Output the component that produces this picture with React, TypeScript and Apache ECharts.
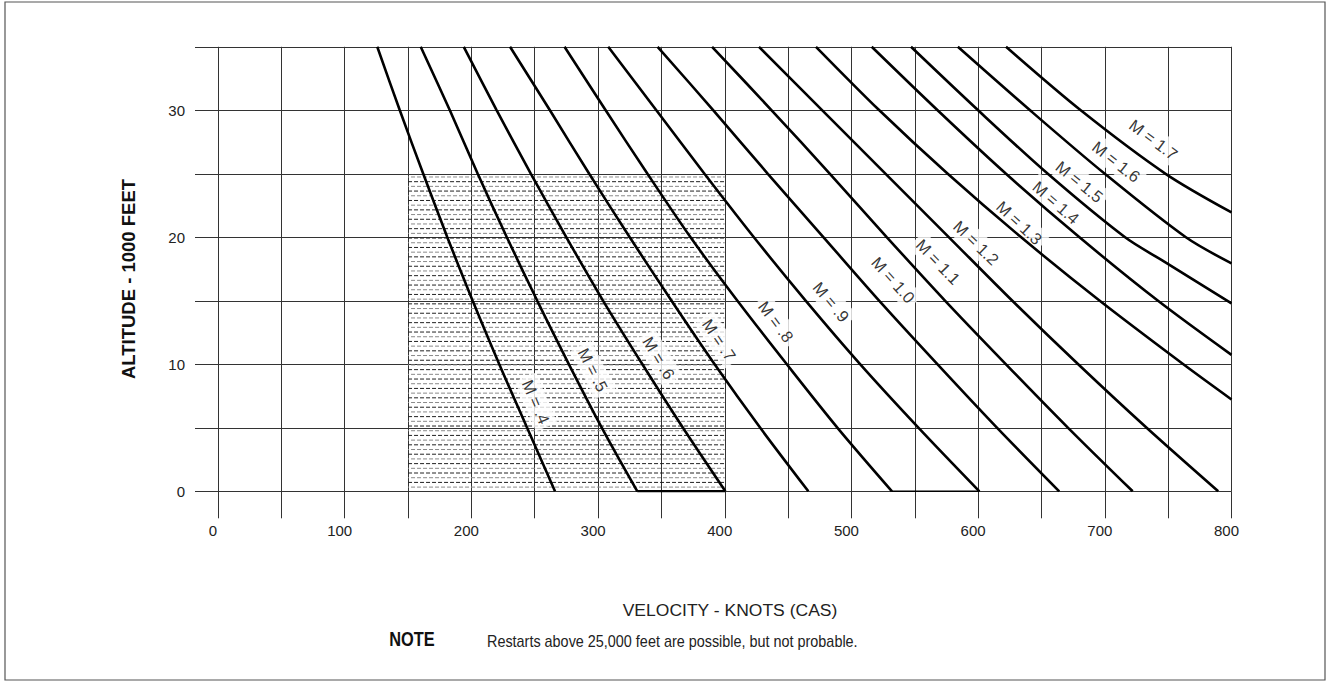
import React, { useEffect, useRef } from "react";
import * as echarts from "echarts";

const FONT = "'Liberation Sans', Arial, Helvetica, sans-serif";

// Altitude (1000 ft) for the low-Mach curves
const altitudes = [0, 5, 10, 15, 20, 25, 30, 35];
// CAS velocity (knots) at each altitude
const mach04 = [266, 244, 222, 201, 181, 162, 143.5, 125.7];
const mach05 = [331, 303, 277, 252, 228, 205, 183, 160];
const mach06 = [400.5, 367, 335, 304, 275, 247, 220, 194];
const mach07 = [466, 428, 392, 358, 325, 293, 262, 230.5];
const mach08 = [532, 489, 449, 410, 373, 339, 306, 273.5];
const mach09 = [601, 553, 507, 464, 423, 384, 346, 308];
const mach10 = [664, 615, 568, 522, 478, 434, 391, 347];
const mach11 = [722, 671, 622, 574, 528, 483, 437, 390];
const mach12 = [789.5, 733, 679, 627, 577, 527, 477, 427];
// High-Mach curves leave the chart on the right edge
const mach13Vel = [800, 762, 696, 634, 576, 522, 472];
const mach13Alt = [7.23, 10, 15, 20, 25, 30, 35];
const mach14Vel = [800, 742, 680, 622, 568, 516];
const mach14Alt = [10.74, 15, 20, 25, 30, 35];
const mach15Vel = [800, 745, 716, 655, 600, 547];
const mach15Alt = [14.8, 18.2, 20, 25, 30, 35];
const mach16Vel = [800, 764, 700, 641, 584];
const mach16Alt = [17.95, 20, 25, 30, 35];
const mach17Vel = [800, 748, 681, 622];
const mach17Alt = [21.96, 25, 30, 35];

// Curve labels
const labelText = ["M = .4", "M = .5", "M = .6", "M = .7", "M = .8", "M = .9", "M = 1.0", "M = 1.1", "M = 1.2", "M = 1.3", "M = 1.4", "M = 1.5", "M = 1.6", "M = 1.7"];
const labelVel = [251, 296, 348, 395.5, 440.5, 484, 533, 568.5, 598.5, 632.5, 661.5, 680, 709, 738.5];
const labelAlt = [7.04, 9.56, 10.5, 11.93, 13.35, 14.92, 16.65, 18.07, 19.57, 21.15, 22.74, 24.38, 25.96, 27.69];
const labelAngle = [-67, -63, -59, -56, -53, -50, -48, -46, -44, -43, -41, -39, -38, -37];

// Restart (shaded) region
const regionVel = [150, 400];
const regionAlt = [0, 25];

// Bold baseline fragments at sea level
const baseSegA = [[331, 0], [400.5, 0]];
const baseSegB = [[532, 0], [601, 0]];

export default function App() {
  const ref = useRef<HTMLDivElement>(null);
  useEffect(() => {
    const chart = echarts.init(ref.current!, null, { renderer: "svg" });

    const lowSeries = [mach04, mach05, mach06, mach07, mach08, mach09, mach10, mach11, mach12].map((vel) =>
      vel.map((v, i) => [v, altitudes[i]])
    );
    const highSeries = [
      [mach13Vel, mach13Alt],
      [mach14Vel, mach14Alt],
      [mach15Vel, mach15Alt],
      [mach16Vel, mach16Alt],
      [mach17Vel, mach17Alt],
    ].map(([vel, alt]) => vel.map((v, i) => [v, alt[i]]));
    const curves = [...lowSeries, ...highSeries];

    // hatch rows (decorative pattern inside the region)
    const hatch: number[][] = [];
    let k = 0;
    for (let a = regionAlt[1] - 0.25; a > regionAlt[0] + 0.15; a -= 0.37) {
      hatch.push([regionVel[0], a, regionVel[1], k % 2]);
      k++;
    }

    const lineSeries = curves.map((d) => ({
      type: "line",
      data: d,
      smooth: 0.3,
      showSymbol: false,
      symbol: "none",
      z: 5,
      lineStyle: { color: "#000", width: 2.6 },
      silent: true,
    }));

    const option: any = {
      animation: false,
      backgroundColor: "#fff",
      grid: { left: 218, right: 98.5, top: 46.8, bottom: 192.7 },
      xAxis: {
        type: "value",
        min: 0,
        max: 800,
        interval: 50,
        axisLine: { show: false },
        axisTick: { show: true, length: 27, lineStyle: { color: "#333", width: 1 } },
        axisLabel: {
          formatter: (v: number) => (v % 100 === 0 ? String(v) : ""),
          margin: 32,
          color: "#222",
          fontSize: 15,
          fontFamily: FONT,
          padding: [0, 10, 0, 0],
        },
        splitLine: { show: true, lineStyle: { color: "#333", width: 1 } },
      },
      yAxis: {
        type: "value",
        min: 0,
        max: 35,
        interval: 5,
        axisLine: { show: false },
        axisTick: { show: true, length: 23, lineStyle: { color: "#333", width: 1 } },
        axisLabel: {
          formatter: (v: number) => (v % 10 === 0 ? String(v) : ""),
          margin: 33,
          color: "#222",
          fontSize: 15,
          fontFamily: FONT,
        },
        splitLine: { show: true, lineStyle: { color: "#333", width: 1 } },
      },
      series: [
        {
          type: "custom",
          z: 1,
          silent: true,
          data: hatch,
          encode: { x: [0, 2], y: 1 },
          renderItem: (params: any, api: any) => {
            const p1 = api.coord([api.value(0), api.value(1)]);
            const p2 = api.coord([api.value(2), api.value(1)]);
            const dark = api.value(3) === 1;
            return {
              type: "line",
              shape: { x1: p1[0], y1: p1[1], x2: p2[0], y2: p2[1] },
              style: { stroke: dark ? "#222" : "#8a8a8a", lineWidth: 1, lineDash: [4, 2], lineDashOffset: dark ? 0 : 3 },
            };
          },
        },
        {
          type: "scatter",
          z: 3,
          silent: true,
          symbolSize: 0,
          data: labelText.map((t, i) => ({
            name: t,
            value: [labelVel[i], labelAlt[i]],
            label: { rotate: labelAngle[i] },
          })),
          label: {
            show: true,
            position: "inside",
            formatter: (p: any) => p.name,
            color: "#000",
            fontSize: 16.5,
            fontFamily: FONT,
            backgroundColor: "#fff",
            padding: [3, 4],
          },
        },
        ...lineSeries,
        {
          type: "line",
          data: baseSegA,
          showSymbol: false,
          symbol: "none",
          z: 5,
          lineStyle: { color: "#000", width: 2.5 },
        },
        {
          type: "line",
          data: baseSegB,
          showSymbol: false,
          symbol: "none",
          z: 5,
          lineStyle: { color: "#000", width: 1.6 },
        },
      ],
      graphic: [
        {
          type: "rect",
          shape: { x: 5, y: 2, width: 1320, height: 678 },
          style: { fill: "none", stroke: "#555", lineWidth: 1.2 },
          z: 0,
        },
        {
          type: "text",
          x: 128,
          y: 279,
          rotation: Math.PI / 2,
          style: {
            text: "ALTITUDE - 1000 FEET",
            fontSize: 18.5,
            fontWeight: "bold",
            fontFamily: FONT,
            fill: "#111",
            align: "center",
            verticalAlign: "middle",
          },
        },
        {
          type: "text",
          x: 730,
          y: 610,
          scaleX: 1.03,
          style: {
            text: "VELOCITY - KNOTS (CAS)",
            fontSize: 17,
            fontFamily: FONT,
            fill: "#222",
            align: "center",
            verticalAlign: "middle",
          },
        },
        {
          type: "text",
          x: 412,
          y: 639,
          scaleX: 0.78,
          style: {
            text: "NOTE",
            fontSize: 21,
            fontWeight: "bold",
            fontFamily: FONT,
            fill: "#111",
            align: "center",
            verticalAlign: "middle",
          },
        },
        {
          type: "text",
          x: 487,
          y: 641,
          scaleX: 0.9,
          style: {
            text: "Restarts above 25,000 feet are possible, but not probable.",
            fontSize: 16,
            fontFamily: FONT,
            fill: "#222",
            align: "left",
            verticalAlign: "middle",
          },
        },
      ],
    };
    chart.setOption(option);
    return () => chart.dispose();
  }, []);
  return (
    <div
      ref={ref}
      style={{ position: "fixed", left: 0, top: 0, width: 1330, height: 684, background: "#fff" }}
    />
  );
}
